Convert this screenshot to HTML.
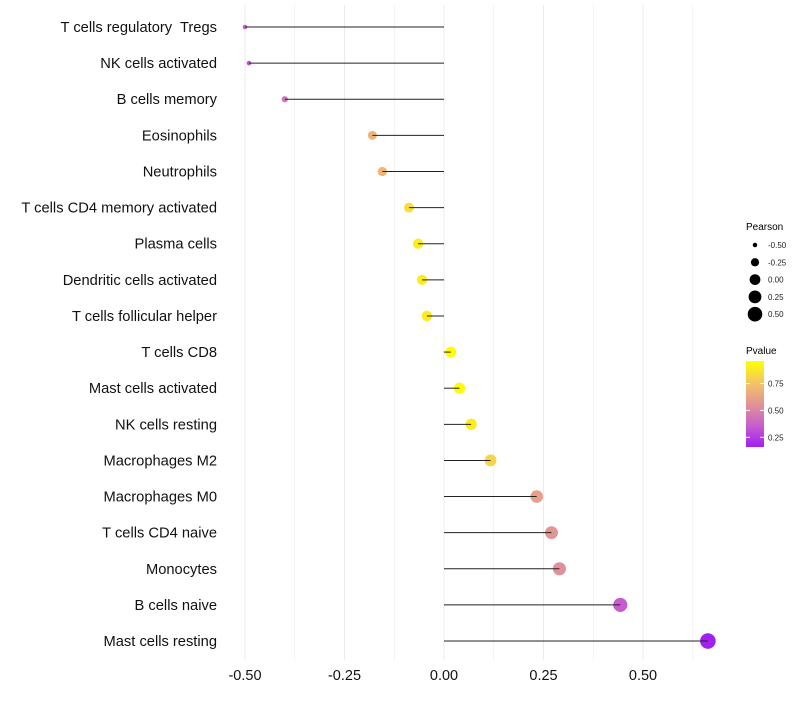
<!DOCTYPE html>
<html><head><meta charset="utf-8"><style>
body{margin:0;background:#fff;font-family:"Liberation Sans",sans-serif}
text{white-space:pre}
</style></head><body>
<svg id="chart" width="800" height="700" xmlns="http://www.w3.org/2000/svg" font-family="Liberation Sans, sans-serif">
<g id="grid"></g>
<g id="marks"></g>
<g id="ylabels"></g>
<g id="xlabels"></g>
<g>
<text x="746" y="230" font-size="10">Pearson</text>
<g id="sizeleg"></g>
</g>
<g>
<defs><linearGradient id="pg" x1="0" y1="1" x2="0" y2="0">
<stop offset="0" stop-color="#A020F0"/><stop offset="0.24" stop-color="#C65CD0"/><stop offset="0.48" stop-color="#E0909A"/><stop offset="0.72" stop-color="#F3BE6C"/><stop offset="1" stop-color="#FFFF00"/></linearGradient></defs>
<text x="746" y="354" font-size="10">Pvalue</text>
<rect x="746" y="361" width="18" height="86" fill="url(#pg)"/>
<g id="colleg"></g>
</g>
</svg>
<script>
const categories=["T cells regulatory  Tregs","NK cells activated","B cells memory","Eosinophils","Neutrophils","T cells CD4 memory activated","Plasma cells","Dendritic cells activated","T cells follicular helper","T cells CD8","Mast cells activated","NK cells resting","Macrophages M2","Macrophages M0","T cells CD4 naive","Monocytes","B cells naive","Mast cells resting"];
const pearson=[-0.50,-0.49,-0.40,-0.18,-0.155,-0.088,-0.065,-0.055,-0.043,0.017,0.039,0.068,0.117,0.233,0.27,0.29,0.443,0.663];
const pvalue=[0.35,0.33,0.45,0.70,0.72,0.85,0.90,0.90,0.90,0.97,0.95,0.90,0.82,0.62,0.57,0.55,0.35,0.16];
const xTicks=[-0.5,-0.25,0,0.25,0.5];
const xTickLabels=["-0.50","-0.25","0.00","0.25","0.50"];
const sizeLegendVals=[-0.5,-0.25,0,0.25,0.5];
const sizeLegendLabels=["-0.50","-0.25","0.00","0.25","0.50"];
const colLegendVals=[0.25,0.5,0.75];
const colLegendLabels=["0.25","0.50","0.75"];

const NS="http://www.w3.org/2000/svg";
const x=v=>444+v*398;
const y=i=>27+i*36.12;
const r=v=>Math.sqrt(5+(v+0.5)*48);
const py=v=>447-(v-0.16)/(0.96-0.16)*86;
const stops=[[0.16,[160,32,240]],[0.35,[198,92,208]],[0.55,[224,144,154]],[0.75,[243,190,108]],[0.96,[255,255,0]]];
function col(p){p=Math.max(0.16,Math.min(0.96,p));for(let k=0;k<stops.length-1;k++){const[a,ca]=stops[k],[b,cb]=stops[k+1];if(p<=b){const t=(p-a)/(b-a);return`rgb(${ca.map((c,j)=>Math.round(c+(cb[j]-c)*t)).join(",")})`}}return"rgb(255,255,0)"}
function mk(t,a,p){const e=document.createElementNS(NS,t);for(const k in a)e.setAttribute(k,a[k]);p.appendChild(e);return e}
const grid=document.getElementById('grid'),marks=document.getElementById('marks'),yl=document.getElementById('ylabels'),xl=document.getElementById('xlabels');
for(let v=-0.5;v<=0.7;v+=0.125){const g=mk('line',{x1:x(v),x2:x(v),y1:5,y2:660,stroke:'#ebebeb','stroke-width':Math.abs((v*8)%2)<0.01?1:0.6},grid);}
xTicks.forEach((v,i)=>{const t=mk('text',{x:x(v),y:680,'font-size':14.5,'text-anchor':'middle',fill:'#111'},xl);t.textContent=xTickLabels[i];

});
categories.forEach((c,i)=>{
const t=mk('text',{x:217,y:y(i)+5,'font-size':14.7,'text-anchor':'end',fill:'#111'},yl);t.textContent=c;


const pt=mk('circle',{cx:x(pearson[i]),cy:y(i),r:r(pearson[i]),fill:col(pvalue[i])},marks);


const l=mk('line',{x1:x(0),x2:x(pearson[i]),y1:y(i),y2:y(i),stroke:'#222','stroke-width':1},marks);


});
const sl=document.getElementById('sizeleg');
sizeLegendVals.forEach((v,i)=>{const yy=245+i*17.3;
const c=mk('circle',{cx:755,cy:yy,r:r(v),fill:'#000'},sl);


const t=mk('text',{x:768,y:yy+3,'font-size':8,fill:'#222'},sl);t.textContent=sizeLegendLabels[i];

});
const cl=document.getElementById('colleg');
colLegendVals.forEach((v,i)=>{const yy=py(v);
const t=mk('text',{x:768,y:yy+3,'font-size':8,fill:'#222'},cl);t.textContent=colLegendLabels[i];


mk('line',{x1:746,x2:750,y1:yy,y2:yy,stroke:'#fff'},cl);mk('line',{x1:760,x2:764,y1:yy,y2:yy,stroke:'#fff'},cl);});
</script>
</body></html>
